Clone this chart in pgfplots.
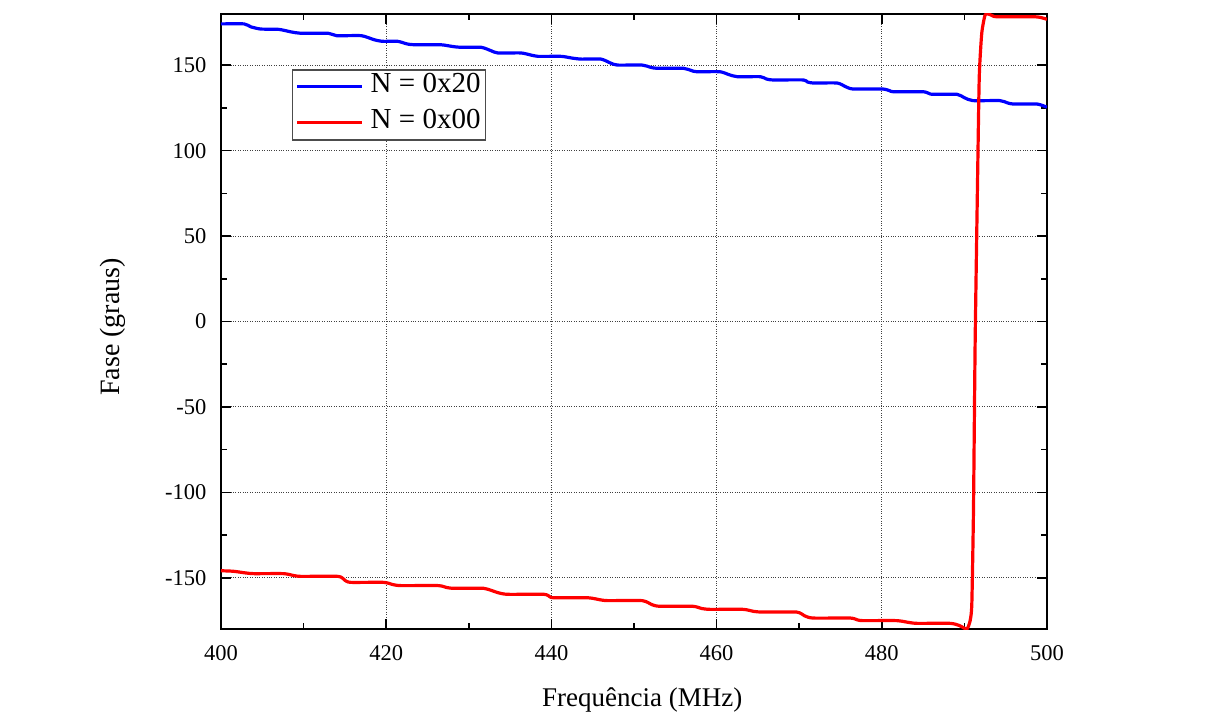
\documentclass[border=0pt]{standalone}
\usepackage{pgfplots}
\pgfplotsset{compat=1.18}
\usepackage{fontspec}
\setmainfont{Liberation Serif}
\begin{document}
\begin{tikzpicture}[x=1pt,y=1pt]
\useasboundingbox (-221,-86) rectangle (995,629);
\begin{axis}[
  at={(0,0)}, anchor=south west,
  scale only axis, width=826pt, height=615pt,
  xmin=400, xmax=500, ymin=-180, ymax=180,
  xtick={400,420,...,500}, ytick={-150,-100,...,150},
  minor x tick num=1, minor y tick num=1,
  tick align=inside, major tick length=10pt, minor tick length=6pt,
  every tick/.style={black, line width=1.6pt},
  axis line style={line width=1.8pt},
  grid=major,
  major grid style={dotted, line width=0.9pt, black!75},
  /pgf/number format/assume math mode=true,
  tick label style={font=\fontsize{22.5}{26}\selectfont},
  xticklabel style={yshift=-13pt},
  yticklabel style={xshift=-11pt},
  xlabel={Frequência (MHz)},
  ylabel={Fase (graus)},
  xlabel style={font=\fontsize{27}{31}\selectfont, at={(axis description cs:0.51,-0.1155)}, anchor=center},
  ylabel style={font=\fontsize{28}{32}\selectfont, at={(axis description cs:-0.1308,0.491)}, anchor=center},
  legend style={at={(0.086,0.910)}, anchor=north west, draw=black!70, line width=1.2pt,
    font=\fontsize{29}{34}\selectfont, row sep=8pt, column sep=0pt, inner sep=3pt,
    nodes={inner sep=2pt, text height=18pt, text depth=6pt}},
  legend cell align=left,
  legend image code/.code={\draw[#1, line width=3pt] (0pt,0pt) -- (65pt,0pt); \path (70pt,0pt);},
]
\addplot[blue, line width=3.2pt, line join=round, smooth, tension=0.35] coordinates {
(400,174.2)(402.8,174.2)(403.6,172.5)(404.8,171.2)(407,171)(408.5,169.5)(409.7,168.7)(413,168.7)(414,167.3)(417,167.3)(418.5,165)(419.5,164)(421.4,164)(422.5,162.5)(423.4,162)(426.6,162)(428,161)(429,160.5)(431.5,160.5)(432.7,158.5)(433.5,157.2)(436.3,157.2)(437.5,156)(438.4,155.2)(441.2,155.2)(442.5,154.2)(443.6,153.6)(446,153.6)(447.2,151.2)(448,150.1)(451,150.1)(452,148.8)(452.8,148.2)(456,148.2)(457,146.8)(457.6,146.2)(460.4,146.2)(461.5,144.5)(462.5,143.3)(465.3,143.3)(466,142)(466.8,141.4)(470.5,141.4)(471,140.2)(471.7,139.6)(474.6,139.6)(475.6,137.5)(476.5,136.1)(480.1,136.1)(481,135)(481.4,134.5)(485,134.5)(485.8,133.3)(486.2,133)(489.1,133)(490,131)(491,129.3)(494.3,129.3)(495.2,128)(495.9,127.3)(498.8,127.3)(500,125.4)
};
\addlegendentry{N = 0x20}
\addplot[red, line width=3.2pt, line join=round, smooth, tension=0.35] coordinates {
(400,-145.9)(401.5,-146.2)(403,-147.2)(404,-147.6)(407.6,-147.6)(408.8,-148.7)(409.7,-149.2)(414.2,-149.2)(415,-151.5)(415.7,-152.7)(419.7,-152.7)(420.8,-154)(421.8,-154.6)(426.3,-154.6)(427.3,-155.7)(428.2,-156.2)(431.8,-156.2)(433.5,-158.7)(434.7,-159.7)(439.1,-159.7)(439.8,-161.1)(440.3,-161.7)(444.4,-161.7)(446,-163)(446.9,-163.4)(451,-163.4)(452.2,-165.8)(453.1,-166.7)(457.1,-166.7)(458.2,-168)(459.2,-168.5)(463.2,-168.5)(464.5,-169.7)(465.6,-170.1)(469.7,-170.1)(470.7,-172.4)(471.7,-173.6)(476.2,-173.6)(477,-174.6)(477.7,-175.1)(481.8,-175.1)(483.3,-176.2)(484.3,-176.7)(488.3,-176.7)(489.4,-178)(490.3,-180)(490.7,-175)(490.9,-165)(491.1,-110)(491.3,-12.6)(491.6,84.8)(491.8,143.3)(492.1,168.7)(492.5,179.4)(492.9,180)(493.4,179)(493.9,178.4)(498.3,178.4)(499.2,178)(500,176.9)
};
\addlegendentry{N = 0x00}
\end{axis}
\end{tikzpicture}
\end{document}
